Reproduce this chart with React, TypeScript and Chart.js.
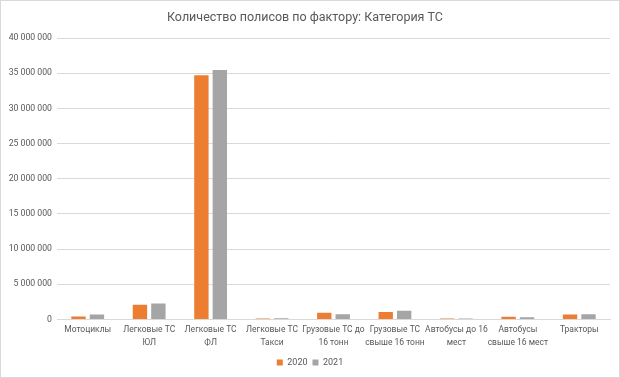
import React, { useEffect, useRef } from "react";
import { Chart, registerables } from "chart.js";

Chart.register(...registerables);

const categories: string[][] = [
  ["Мотоциклы"],
  ["Легковые ТС", "ЮЛ"],
  ["Легковые ТС", "ФЛ"],
  ["Легковые ТС", "Такси"],
  ["Грузовые ТС до", "16 тонн"],
  ["Грузовые ТС", "свыше 16 тонн"],
  ["Автобусы до 16", "мест"],
  ["Автобусы", "свыше 16 мест"],
  ["Тракторы"],
];
const series2020: number[] = [430000, 2100000, 34700000, 140000, 950000, 1050000, 140000, 380000, 700000];
const series2021: number[] = [710000, 2280000, 35470000, 190000, 760000, 1230000, 130000, 330000, 760000];
const seriesNames: string[] = ["2020", "2021"];
const titleText = "Количество полисов по фактору: Категория ТС";

const TEXT = "#595959";
const FONT = "Roboto, sans-serif";

function fmt(v: number): string {
  return String(Math.round(v)).replace(/\B(?=(\d{3})+(?!\d))/g, " ");
}

const shiftLegend = {
  id: "shiftLegend",
  afterLayout(chart: any) {
    if (chart.legend) {
      chart.legend.left += 5;
      chart.legend.right += 5;
    }
  },
};

export default function App() {
  const ref = useRef<HTMLCanvasElement | null>(null);
  useEffect(() => {
    if (!ref.current) return;
    const chart = new Chart(ref.current, {
      type: "bar",
      data: {
        labels: categories,
        datasets: [
          { label: seriesNames[0], data: series2020, backgroundColor: "#ED7D31", categoryPercentage: 0.6, barPercentage: 0.78 },
          { label: seriesNames[1], data: series2021, backgroundColor: "#A5A5A5", categoryPercentage: 0.6, barPercentage: 0.78 },
        ],
      },
      plugins: [shiftLegend],
      options: {
        animation: false,
        responsive: false,
        layout: { padding: { left: 0, right: 10, top: 0, bottom: 1 } },
        plugins: {
          title: {
            display: true,
            text: titleText,
            color: TEXT,
            font: { family: FONT, size: 12.5, weight: "normal" },
            padding: { top: 10, bottom: 13 },
          },
          legend: {
            position: "bottom",
            labels: {
              color: TEXT,
              font: { family: FONT, size: 9 },
              boxWidth: 6,
              boxHeight: 6,
              padding: 5,
            },
          },
          tooltip: { enabled: false },
        },
        scales: {
          x: {
            grid: { display: false, drawTicks: false },
            border: { color: "#D9D9D9" },
            ticks: {
              color: TEXT,
              font: { family: FONT, size: 8.5, lineHeight: 1.5 },
              maxRotation: 0,
              minRotation: 0,
              autoSkip: false,
              padding: 4,
            },
          },
          y: {
            min: 0,
            max: 40000000,
            grid: { color: "#D9D9D9", drawTicks: false },
            border: { display: false },
            ticks: {
              stepSize: 5000000,
              color: TEXT,
              font: { family: FONT, size: 8.7 },
              padding: 5,
              callback: (v: any) => fmt(Number(v)),
            },
            afterFit: (scale: any) => {
              scale.width = 57;
            },
          },
        },
      },
    });
    return () => chart.destroy();
  }, []);
  return (
    <div style={{ position: "fixed", left: 0, top: 0, width: 620, height: 378, background: "#fff" }}>
      <canvas ref={ref} width={620} height={378} style={{ display: "block" }} />
      <div
        style={{
          position: "absolute",
          left: 0,
          top: 0,
          width: 618,
          height: 376,
          border: "1px solid #D9D9D9",
          pointerEvents: "none",
        }}
      />
    </div>
  );
}
